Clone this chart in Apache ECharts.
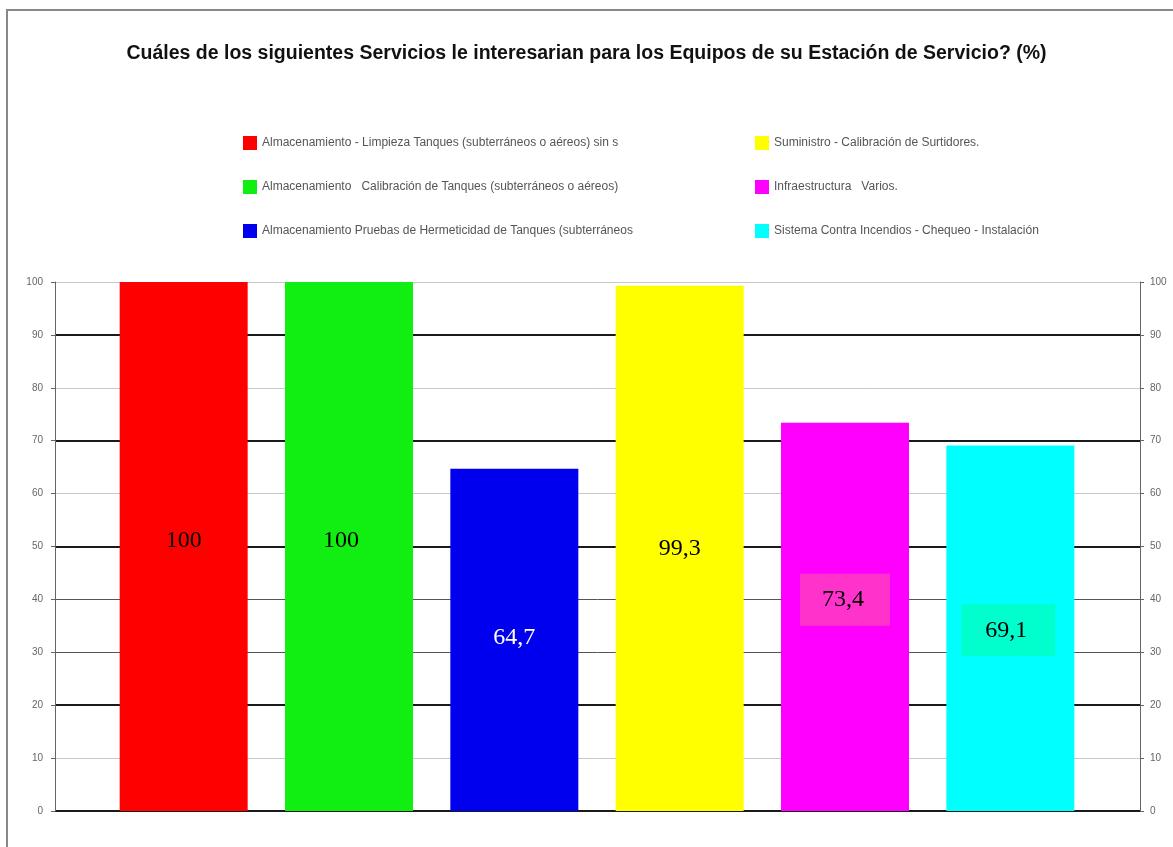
<!DOCTYPE html>
<html>
<head>
<meta charset="utf-8">
<script src="https://cdn.jsdelivr.net/npm/echarts@6/dist/echarts.min.js"></script>
<style>
  html, body { margin: 0; padding: 0; background: #fff; }
  #chart { width: 1173px; height: 847px; }
</style>
</head>
<body>
<div id="chart"></div>
<script>
// datos del gráfico
const categories = ['c1', 'c2', 'c3', 'c4', 'c5', 'c6']
const seriesNames = [
  'Almacenamiento - Limpieza Tanques (subterráneos o aéreos) sin s',
  'Almacenamiento   Calibración de Tanques (subterráneos o aéreos)',
  'Almacenamiento Pruebas de Hermeticidad de Tanques (subterráneos',
  'Suministro - Calibración de Surtidores.',
  'Infraestructura   Varios.',
  'Sistema Contra Incendios - Chequeo - Instalación'
]
const values = [100, 100, 64.7, 99.3, 73.4, 69.1]
const yTicks = [0, 10, 20, 30, 40, 50, 60, 70, 80, 90, 100]

const colors = ['#ff0000', '#11ee11', '#0000ee', '#ffff00', '#ff00ff', '#00ffff']
const labelStyles = [
  { offset: [0, -6], color: '#000' },
  { offset: [-8, -6], color: '#000' },
  { offset: [0, -2], color: '#fff' },
  { offset: [0, 0], color: '#000' },
  { offset: [0, -17], color: '#000', backgroundColor: '#ff33cc', padding: [14, 26, 14, 22] },
  { offset: [-2, 2], color: '#000', backgroundColor: '#00ffcc', padding: [14, 28, 14, 24] }
]

const chart = echarts.init(document.getElementById('chart'))

const dark = '#1a1a1a'
const mid = '#555'
const light = '#c8c8c8'
const none = 'rgba(0,0,0,0)'
// líneas gruesas (oscuras) y finas (claras), índice por valor del tick
const heavyColors = yTicks.map(v => [0, 20, 50, 70, 90].includes(v) ? dark : none)
const thinColors = yTicks.map(v => [30, 40].includes(v) ? mid : ([0, 20, 50, 70, 90].includes(v) ? none : light))

const series = seriesNames.map((name, i) => ({
  name: name,
  type: 'bar',
  xAxisIndex: 0,
  yAxisIndex: 0,
  barWidth: 128,
  barGap: '-100%',
  itemStyle: { color: colors[i] },
  data: categories.map((c, j) => (j === i ? values[j] : null)),
  label: {
    show: true,
    position: 'inside',
    fontFamily: 'Liberation Serif',
    fontSize: 24,
    formatter: p => String(p.value).replace('.', ','),
    ...labelStyles[i]
  }
}))

const legendCommon = {
  orient: 'vertical',
  top: 131,
  itemWidth: 14,
  itemHeight: 14,
  itemGap: 30,
  icon: 'rect',
  textStyle: { fontFamily: 'Liberation Sans', fontSize: 12, color: '#555' }
}

const axisLabelStyle = { fontFamily: 'Liberation Sans', fontSize: 10, color: '#666' }

const option = {
  backgroundColor: '#fff',
  animation: false,
  title: {
    text: 'Cuáles de los siguientes Servicios le interesarian para los Equipos de su Estación de Servicio? (%)',
    left: 'center',
    top: 39,
    textStyle: { fontFamily: 'Liberation Sans', fontSize: 19.5, fontWeight: 'bold', color: '#111' }
  },
  legend: [
    { ...legendCommon, left: 238, data: seriesNames.slice(0, 3) },
    { ...legendCommon, left: 750, data: seriesNames.slice(3) }
  ],
  grid: [
    { left: 101, right: 80, top: 282, bottom: 36 },
    { left: 55, right: 33, top: 282, bottom: 36 }
  ],
  xAxis: [
    { type: 'category', gridIndex: 0, data: categories, show: false },
    { type: 'category', gridIndex: 1, data: categories, show: false }
  ],
  yAxis: [
    { type: 'value', gridIndex: 0, min: 0, max: 100, interval: 10, show: false },
    {
      type: 'value', gridIndex: 1, position: 'left', min: 0, max: 100, interval: 10,
      axisLine: { show: true, lineStyle: { color: '#666', width: 1 } },
      axisTick: { show: true, length: 4, lineStyle: { color: '#666' } },
      axisLabel: { ...axisLabelStyle, margin: 12 },
      splitLine: { show: true, lineStyle: { color: heavyColors, width: 2 } }
    },
    {
      type: 'value', gridIndex: 1, position: 'right', min: 0, max: 100, interval: 10,
      axisLine: { show: true, lineStyle: { color: '#666', width: 1 } },
      axisTick: { show: true, length: 4, lineStyle: { color: '#666' } },
      axisLabel: { ...axisLabelStyle, margin: 10 },
      splitLine: { show: true, lineStyle: { color: thinColors, width: 1 } }
    }
  ],
  graphic: [
    {
      type: 'rect',
      shape: { x: 7, y: 10, width: 1180, height: 850 },
      style: { fill: 'none', stroke: '#888', lineWidth: 2 },
      silent: true
    }
  ],
  series: series
}

chart.setOption(option)
</script>
</body>
</html>
